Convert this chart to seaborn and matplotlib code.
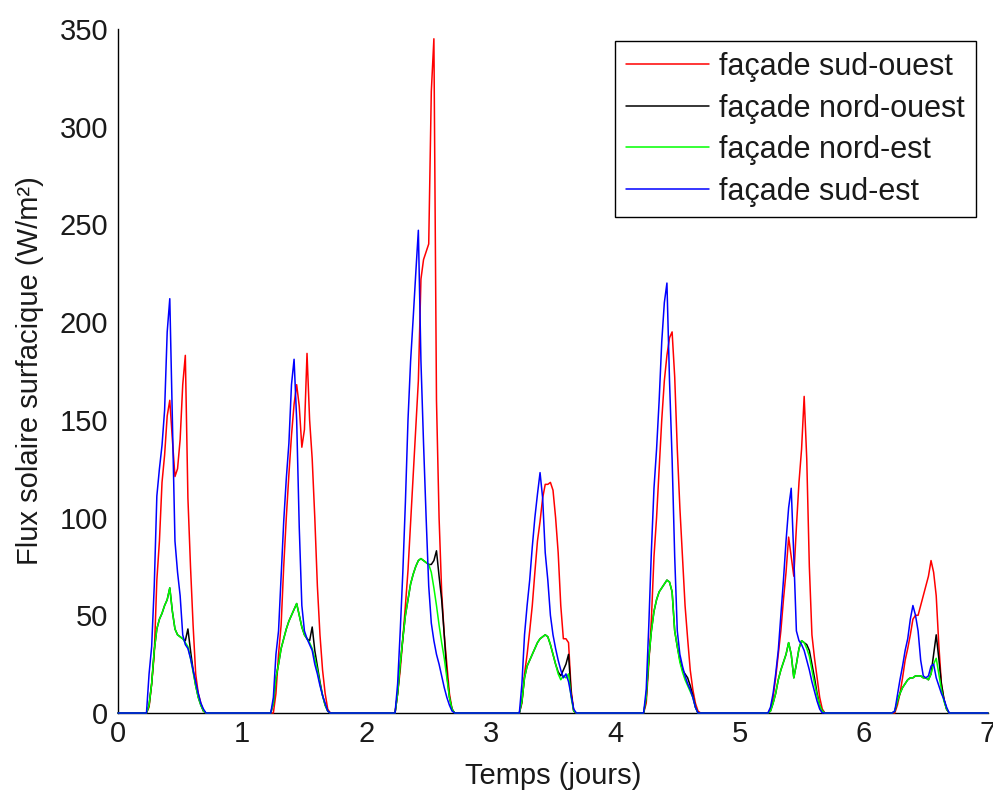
import numpy as np
import pandas as pd
import matplotlib
matplotlib.use("Agg")
import matplotlib.pyplot as plt
import seaborn as sns

# Half-hourly daytime sample times (hours of the day), zero flux outside
hours = [6.0, 6.5, 7.0, 7.5, 8.0, 8.5, 9.0, 9.5, 10.0, 10.5, 11.0,
         11.5, 12.0, 12.5, 13.0, 13.5, 14.0, 14.5, 15.0, 15.5, 16.0, 16.5]
n_days = 7

labels = ["façade sud-ouest", "façade nord-ouest", "façade nord-est", "façade sud-est"]
colors = ["#ff0000", "#000000", "#00ff00", "#0000ff"]

sud_ouest = [
    [3, 15, 30, 68, 88, 118, 132, 152, 160, 140, 121, 125, 140, 168, 183, 110, 75, 45, 20, 10, 5, 1],
    [0, 10, 30, 45, 75, 100, 122, 142, 158, 168, 157, 136, 145, 184, 150, 130, 100, 65, 40, 22, 10, 2],
    [10, 22, 38, 55, 73, 97, 120, 145, 170, 222, 232, 236, 240, 318, 345, 160, 100, 62, 40, 25, 10, 2],
    [5, 20, 30, 42, 55, 72, 88, 98, 110, 117, 117, 118, 114, 100, 82, 55, 38, 38, 36, 12, 1, 0],
    [5, 25, 48, 80, 100, 125, 150, 170, 183, 192, 195, 172, 135, 105, 80, 55, 38, 22, 12, 5, 1, 0],
    [2, 8, 18, 30, 42, 58, 72, 90, 80, 70, 95, 118, 135, 162, 130, 75, 40, 28, 18, 8, 2, 0],
    [0, 4, 10, 18, 27, 33, 40, 48, 50, 50, 55, 60, 65, 70, 78, 72, 60, 35, 15, 7, 2, 0],
]
nord_ouest = [
    [4, 15, 32, 43, 48, 51, 55, 58, 64, 52, 43, 40, 39, 38, 37, 43, 32, 22, 14, 8, 4, 1],
    [5, 18, 25, 33, 38, 43, 47, 50, 53, 56, 50, 44, 40, 38, 37, 44, 32, 24, 16, 9, 4, 1],
    [10, 25, 38, 50, 58, 66, 71, 75, 78, 79, 78, 77, 76, 76, 78, 83, 70, 58, 40, 20, 8, 2],
    [6, 18, 24, 27, 30, 33, 36, 38, 39, 40, 39, 35, 30, 25, 21, 19, 22, 25, 30, 10, 1, 0],
    [8, 28, 42, 52, 58, 62, 64, 66, 68, 67, 62, 42, 34, 27, 22, 20, 18, 14, 9, 3, 0, 0],
    [1, 5, 10, 17, 22, 26, 30, 36, 30, 18, 25, 33, 37, 36, 35, 32, 25, 18, 10, 4, 1, 0],
    [1, 6, 10, 13, 15, 17, 18, 18, 19, 19, 19, 18, 18, 17, 20, 30, 40, 28, 15, 7, 2, 0],
]
nord_est = [
    [4, 15, 32, 43, 48, 51, 55, 58, 64, 52, 43, 40, 39, 38, 36, 34, 28, 21, 14, 8, 4, 1],
    [5, 18, 25, 33, 38, 43, 47, 50, 53, 56, 50, 44, 40, 38, 36, 33, 28, 22, 15, 9, 4, 1],
    [10, 25, 38, 50, 58, 66, 71, 75, 78, 79, 78, 77, 76, 72, 64, 55, 45, 36, 28, 18, 8, 2],
    [6, 18, 24, 27, 30, 33, 36, 38, 39, 40, 39, 35, 30, 25, 20, 17, 19, 18, 20, 8, 1, 0],
    [8, 28, 42, 52, 58, 62, 64, 66, 68, 67, 62, 42, 34, 26, 21, 17, 14, 11, 8, 3, 0, 0],
    [1, 5, 10, 17, 22, 26, 30, 36, 30, 18, 25, 33, 37, 36, 33, 29, 22, 15, 9, 4, 1, 0],
    [1, 6, 10, 13, 15, 17, 18, 18, 19, 19, 19, 18, 18, 17, 20, 25, 28, 20, 12, 6, 2, 0],
]
sud_est = [
    [20, 34, 65, 111, 125, 137, 155, 195, 212, 150, 88, 72, 60, 40, 35, 33, 28, 22, 16, 10, 5, 2],
    [8, 30, 42, 70, 98, 120, 138, 168, 181, 150, 95, 55, 42, 38, 35, 32, 25, 20, 14, 9, 5, 1],
    [15, 42, 72, 108, 150, 180, 202, 225, 247, 180, 138, 100, 65, 46, 37, 30, 25, 19, 13, 8, 4, 1],
    [15, 40, 55, 68, 85, 100, 112, 123, 110, 82, 68, 50, 40, 33, 27, 22, 18, 20, 16, 9, 2, 0],
    [12, 45, 83, 115, 135, 160, 190, 210, 220, 170, 130, 80, 42, 30, 24, 19, 15, 12, 8, 3, 0, 0],
    [3, 10, 20, 32, 50, 68, 88, 105, 115, 80, 42, 37, 35, 32, 27, 22, 16, 11, 6, 2, 0, 0],
    [1, 9, 17, 24, 32, 38, 48, 55, 50, 42, 27, 19, 18, 19, 24, 25, 18, 14, 10, 7, 3, 0],
]

# Build a half-hourly timeline over the week (time in days)
steps_per_day = 48
t = np.arange(n_days * steps_per_day + 1) / steps_per_day
hour_idx = (np.array(hours) * 2).astype(int)


def build(rows):
    v = np.zeros_like(t)
    for d, row in enumerate(rows):
        v[d * steps_per_day + hour_idx] = row
    return v


frames = []
for lab, rows in zip(labels, [sud_ouest, nord_ouest, nord_est, sud_est]):
    frames.append(pd.DataFrame({"t": t, "flux": build(rows), "facade": lab}))
df = pd.concat(frames, ignore_index=True)

sns.set_theme(style="white")
plt.rcParams["font.family"] = ["Liberation Sans", "DejaVu Sans"]
plt.rcParams["font.size"] = 21

fig = plt.figure(figsize=(9.93, 7.91), dpi=100)
ax = fig.add_axes([118 / 993, 1 - 713 / 791, 870 / 993, 684 / 791])

sns.lineplot(data=df, x="t", y="flux", hue="facade", hue_order=labels,
             palette=dict(zip(labels, colors)), estimator=None, errorbar=None,
             sort=False, linewidth=1.1, ax=ax)

for ln in ax.lines:
    ln.set_clip_on(False)
    ln.set_zorder(3)

ax.set_xlim(0, 7)
ax.set_ylim(0, 350)
ax.set_xticks(range(0, 8))
ax.set_yticks(range(0, 351, 50))
ax.tick_params(direction="in", length=6.5, width=1, colors="black",
               labelsize=21, labelcolor="#1a1a1a")
ax.tick_params(axis="x", pad=5)
ax.tick_params(axis="y", pad=7)
for side in ["top", "right"]:
    ax.spines[side].set_visible(False)
for side in ["left", "bottom"]:
    ax.spines[side].set_color("black")
    ax.spines[side].set_linewidth(1.0)
    ax.spines[side].set_zorder(2)

ax.set_xlabel("Temps (jours)", fontsize=21, color="#1a1a1a", labelpad=10)
ax.set_ylabel("Flux solaire surfacique (W/m²)", fontsize=21, color="#1a1a1a", labelpad=11)

handles, labs = ax.get_legend_handles_labels()
leg = ax.legend(handles, labs, loc="upper right", frameon=True, fancybox=False,
                edgecolor="black", framealpha=1, fontsize=22, handlelength=2.7,
                handletextpad=0.35, borderpad=0.35, labelspacing=0.38,
                borderaxespad=0.4)
leg.get_frame().set_linewidth(1.0)
for ln in leg.get_lines():
    ln.set_linewidth(1.1)
for txt in leg.get_texts():
    txt.set_color("#1a1a1a")

fig.savefig("out.png", dpi=100)
